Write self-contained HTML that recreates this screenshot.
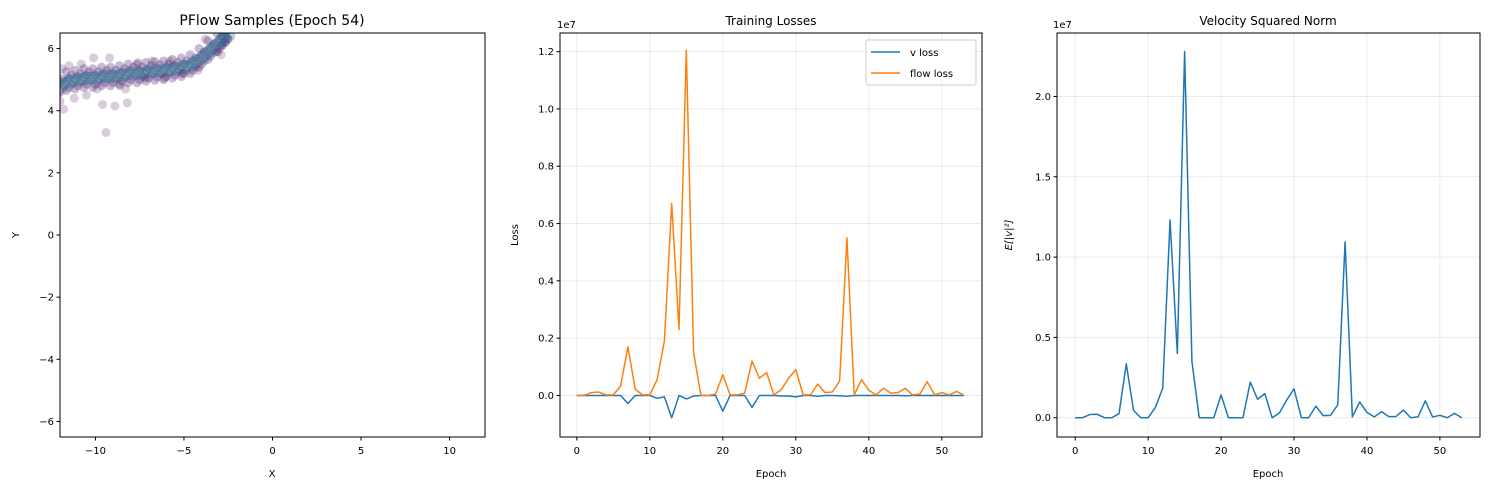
<!DOCTYPE html>
<html><head><meta charset="utf-8"><style>
body{margin:0;background:#fff}
svg{font-family:"DejaVu Sans","Liberation Sans",sans-serif;display:block}
</style></head><body>
<svg id="fig" width="1489" height="490" viewBox="0 0 1489 490"></svg>
<script>
// ---- data ----
const epochs = Array.from({length:54},(_,i)=>i);
const flowLoss = [0,0,0.1,0.12,0.02,0.02,0.33,1.7,0.22,0.02,0.02,0.55,1.9,6.7,2.3,12.05,1.5,0,0,0.05,0.72,0.02,0.02,0.08,1.2,0.6,0.8,0.02,0.2,0.6,0.9,0.02,0.02,0.4,0.1,0.12,0.5,5.5,0.02,0.55,0.18,0.02,0.25,0.08,0.1,0.25,0.02,0.05,0.48,0.02,0.1,0.02,0.14,0.02];
const vLoss = [0,0,0,0,0,0,0,-0.28,0,0,0,-0.1,-0.05,-0.78,0,-0.12,-0.02,0,0,0,-0.55,0,0,0,-0.42,0,0,0,-0.02,-0.02,-0.05,0,0,-0.03,0,0,-0.01,-0.03,0,0,0,0,0,0,0,-0.01,0,0,0,0,0,0,0,0];
const velNorm = [0,0,0.2,0.22,0,0,0.25,3.35,0.45,0,0,0.65,1.85,12.3,4.0,22.8,3.5,0,0,0,1.42,0,0,0,2.22,1.15,1.5,0,0.3,1.1,1.8,0,0,0.72,0.13,0.15,0.8,10.95,0.05,0.98,0.33,0.05,0.38,0.07,0.08,0.48,0,0.05,1.05,0.05,0.15,0,0.27,0];
const bandX = [-12,-11.5,-11,-10.5,-10,-9.5,-9,-8.5,-8,-7.5,-7,-6.5,-6,-5.5,-5,-4.5,-4,-3.5,-3,-2.7,-2.5];
const bandY = [4.8,4.95,5.0,5.05,5.05,5.1,5.1,5.15,5.2,5.2,5.25,5.28,5.3,5.35,5.4,5.5,5.7,5.95,6.2,6.4,6.5];
const outX = [-11.8,-11.2,-10.5,-9.6,-9.4,-8.9,-8.2,-8.3,-10.1,-11.5,-7.6,-6.8,-6.1,-4.2,-3.1,-11.9,-10.8,-9.2,-8.6,-7.2,-5.8,-5.1,-3.8,-12,-9.9,-2.9];
const outY = [4.05,4.4,4.5,4.2,3.3,4.15,4.25,4.7,5.7,5.45,5.55,5.6,5.05,5.3,5.9,5.35,5.5,5.7,4.8,5.05,5.6,5.2,6.3,4.3,4.7,5.8];
const xTicks1=[-10,-5,0,5,10], yTicks1=[-6,-4,-2,0,2,4,6];
const epTicks=[0,10,20,30,40,50];
const lossTicks=[0,2,4,6,8,10,12], velTicks=[0,5,10,15,20];

const svg=document.getElementById('fig');
const NS='http://www.w3.org/2000/svg';
function mk(tag,attrs,parent,name){const e=document.createElementNS(NS,tag);for(const k in attrs)e.setAttribute(k,attrs[k]);(parent||svg).appendChild(e);


return e;}
function txt(x,y,s,size,anchor,name,extra){const t=mk('text',Object.assign({x:x,y:y,'font-size':size,'text-anchor':anchor||'middle',fill:'#000'},extra||{}),svg,name);t.textContent=s;return t;}

function panel(L,R,T,B,xmin,xmax,ymin,ymax){return {sx:v=>L+(v-xmin)/(xmax-xmin)*(R-L),sy:v=>B-(v-ymin)/(ymax-ymin)*(B-T),L,R,T,B};}
function frame(p,name){mk('rect',{x:p.L,y:p.T,width:p.R-p.L,height:p.B-p.T,fill:'none',stroke:'#000','stroke-width':1},svg,name);}
function xticks(p,ticks,fmt,grid){ticks.forEach(t=>{const x=p.sx(t);if(grid)mk('line',{x1:x,x2:x,y1:p.T,y2:p.B,stroke:'#b0b0b0','stroke-opacity':0.3,'stroke-width':0.8},svg,'x-grid-line');mk('line',{x1:x,x2:x,y1:p.B,y2:p.B+3.5,stroke:'#000'},svg,'x-tick');txt(x,p.B+17,fmt(t),10,'middle','x-tick-label');});}
function yticks(p,ticks,fmt,grid){ticks.forEach(t=>{const y=p.sy(t);if(grid)mk('line',{x1:p.L,x2:p.R,y1:y,y2:y,stroke:'#b0b0b0','stroke-opacity':0.3,'stroke-width':0.8},svg,'y-grid-line');mk('line',{x1:p.L-3.5,x2:p.L,y1:y,y2:y,stroke:'#000'},svg,'y-tick');txt(p.L-6,y+3.5,fmt(t),10,'end','y-tick-label');});}
const m=v=>v<0?'\u2212'+(-v):String(v);

// ---- panel 1 scatter ----
const p1=panel(60,485,33,437,-12,12,-6.5,6.5);
const clip=mk('clipPath',{id:'c1'},svg,'clip');mk('rect',{x:60,y:33,width:425,height:404},clip,'clip-rect');
const g1=mk('g',{'clip-path':'url(#c1)'},svg,'scatter-points');
const offs=[-0.3,-0.2,-0.1,0,0.1,0.2,0.3];
bandX.forEach((x,i)=>{offs.forEach((o,j)=>{const xx=x+(j%3-1)*0.15;mk('circle',{cx:p1.sx(xx),cy:p1.sy(bandY[i]+o),r:4.5,fill:Math.abs(o)<0.15?'#31688e':'#481a6c','fill-opacity':0.3},g1,'sample-point');});});
mk('polyline',{points:bandX.map((x,i)=>p1.sx(x)+','+p1.sy(bandY[i])).join(' '),fill:'none',stroke:'#33638d','stroke-opacity':0.55,'stroke-width':12},g1,'sample-band');
outX.forEach((x,i)=>mk('circle',{cx:p1.sx(x),cy:p1.sy(outY[i]),r:4.5,fill:'#440154','fill-opacity':0.2},g1,'sample-point'));
frame(p1,'scatter-frame');
xticks(p1,xTicks1,m,false);yticks(p1,yTicks1,m,false);
txt(272,477,'X',10,'middle','x-axis-title');
txt(0,0,'Y',10,'middle','y-axis-title',{transform:'translate(19,235) rotate(-90)'});
txt(272,25,'PFlow Samples (Epoch 54)',14,'middle','scatter-title');

// ---- panel 2 losses ----
const p2=panel(560,982,33,437,-2.3,55.5,-1.45,12.65);
xticks(p2,epTicks,String,true);yticks(p2,lossTicks,v=>(v/10).toFixed(1),true);
function line(p,xs,ys,color,name){mk('polyline',{points:xs.map((x,i)=>p.sx(x)+','+p.sy(ys[i])).join(' '),fill:'none',stroke:color,'stroke-width':1.5,'stroke-linejoin':'round'},svg,name);}
line(p2,epochs,vLoss,'#1f77b4','v-loss-line');
line(p2,epochs,flowLoss,'#ff7f0e','flow-loss-line');
frame(p2,'loss-frame');
txt(771,25,'Training Losses',12,'middle','loss-title');
txt(771,477,'Epoch',10,'middle','x-axis-title');
txt(0,0,'Loss',10,'middle','y-axis-title',{transform:'translate(518,235) rotate(-90)'});
txt(557,28,'1e7',10,'start','offset-text');
mk('rect',{x:866,y:40,width:110,height:45,rx:2,fill:'#fff','fill-opacity':0.8,stroke:'#ccc'},svg,'legend-box');
mk('line',{x1:871,x2:900,y1:52,y2:52,stroke:'#1f77b4','stroke-width':1.5},svg,'legend-v-loss-swatch');
txt(910,56,'v loss',10,'start','legend-v-loss');
mk('line',{x1:871,x2:900,y1:73,y2:73,stroke:'#ff7f0e','stroke-width':1.5},svg,'legend-flow-loss-swatch');
txt(910,77,'flow loss',10,'start','legend-flow-loss');

// ---- panel 3 velocity ----
const p3=panel(1057,1480,33,437,-2.5,55.5,-1.2,23.95);
xticks(p3,epTicks,String,true);yticks(p3,velTicks,v=>(v/10).toFixed(1),true);
line(p3,epochs,velNorm,'#1f77b4','velocity-line');
frame(p3,'velocity-frame');
txt(1268,25,'Velocity Squared Norm',12,'middle','velocity-title');
txt(1268,477,'Epoch',10,'middle','x-axis-title');
txt(0,0,'E[|v|²]',10,'middle','y-axis-title',{transform:'translate(1012,235) rotate(-90)','font-style':'italic'});
txt(1053,28,'1e7',10,'start','offset-text');
</script>
</body></html>
